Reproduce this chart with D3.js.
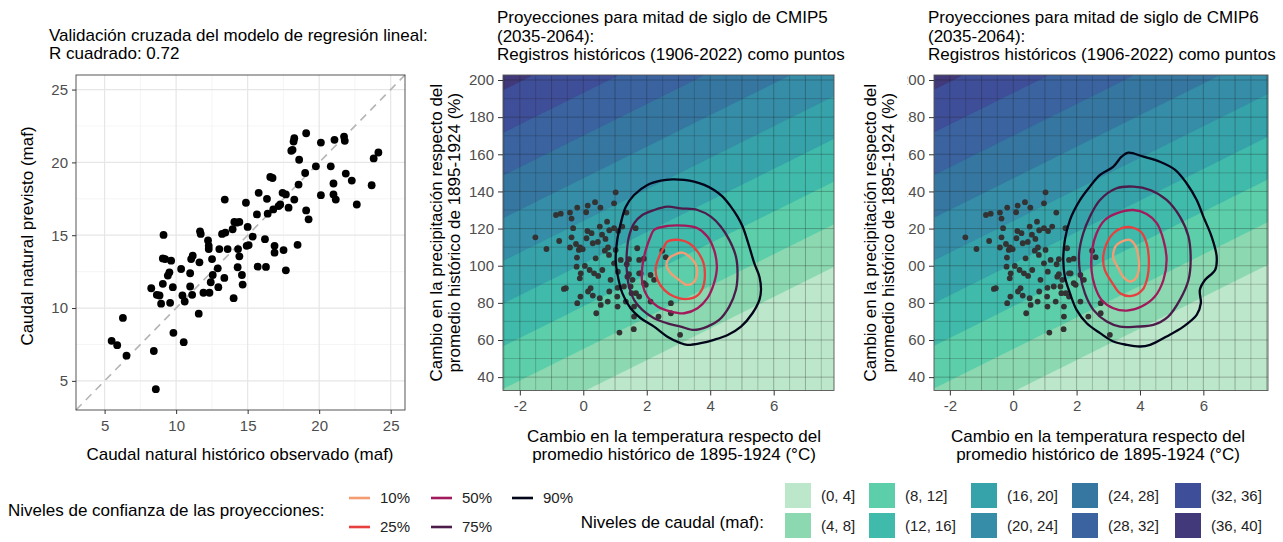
<!DOCTYPE html>
<html><head><meta charset="utf-8">
<script src="https://cdn.jsdelivr.net/npm/d3@7"></script>
<style>
body{margin:0;background:#fff;}
text{font-family:"Liberation Sans",Arial,Helvetica,sans-serif;}
</style></head>
<body><svg id="chart" width="1283" height="542"></svg>
<script>
// ---------- DATA ----------
// Left panel: cross-validation (maf)
const obsFlow = [5.49,5.88,6.28,6.53,8.44,8.58,8.26,8.65,8.84,8.95,9.07,9.12,9.07,9.23,9.42,9.53,9.58,9.77,9.65,9.81,10.35,10.44,10.53,10.60,10.98,11.05,10.98,11.12,11.16,11.58,11.63,11.67,11.72,11.91,12.23,12.28,12.28,12.33,12.42,12.56,12.51,12.91,12.95,13.02,13.21,13.40,13.37,13.44,13.60,14.02,13.95,14.07,14.23,14.33,14.30,14.42,14.42,14.60,14.65,14.88,15.00,15.07,14.93,15.35,15.65,15.70,15.77,16.28,16.21,16.35,16.40,16.58,16.74,16.88,16.79,16.88,17.16,17.28,17.44,17.51,17.67,17.67,17.86,18.05,18.14,18.21,18.26,18.26,18.56,18.60,18.49,19.02,19.09,19.26,19.09,19.77,20.12,20.12,20.81,21.00,21.00,21.07,21.16,21.74,21.79,21.86,22.28,22.63,23.67,23.81,24.14];
const predFlow = [7.75,7.45,9.32,6.73,7.05,4.43,11.36,10.91,10.86,10.30,11.66,15.02,13.41,13.36,12.23,12.45,10.36,11.43,13.25,8.30,12.68,10.86,7.66,10.45,12.39,13.36,11.48,10.91,13.59,9.61,13.14,15.27,15.09,11.05,14.64,14.05,14.27,11.05,11.77,12.27,13.36,12.73,11.43,14.05,15.09,17.45,12.07,15.18,14.05,10.68,15.41,15.91,15.86,14.05,12.80,13.55,15.91,12.27,11.61,17.23,15.57,14.32,14.27,14.91,16.43,12.84,17.91,12.82,14.73,17.50,16.48,19.00,18.93,14.27,16.77,13.80,17.00,17.11,17.91,13.98,12.59,17.80,16.89,20.80,20.86,21.43,21.66,17.45,18.48,20.18,14.34,19.27,16.70,16.09,22.00,19.73,21.36,17.75,19.73,18.55,17.80,21.55,17.45,21.77,21.48,19.23,18.75,17.11,18.43,20.27,20.68];
const flowTicks = [5,10,15,20,25];

// Historical records (1906-2022): temperature change (°C) and precipitation (%)
const histTemp = [-1.51,-1.16,-0.86,-0.71,-0.76,-0.42,-0.37,-0.32,-0.19,-0.42,-0.37,-0.23,-0.14,-0.20,-0.10,-0.02,0.10,0.13,0.14,0.09,0.37,0.54,0.26,0.30,0.46,0.52,0.59,0.75,0.70,0.82,0.78,1.02,0.97,0.97,1.10,1.23,1.36,0.81,0.68,1.02,1.18,1.37,1.44,0.97,1.09,0.86,0.39,0.20,0.34,0.47,0.60,0.05,-0.08,-0.21,-0.11,-0.55,-0.61,0.23,-0.09,-0.19,0.15,0.30,0.52,0.55,0.77,0.82,1.08,1.08,1.07,1.28,1.39,1.49,1.55,1.65,1.70,1.76,1.91,1.81,1.91,1.97,2.12,2.23,2.37,2.12,2.49,2.60,2.76,2.76,0.41,1.14,1.59,3.05,1.60,1.60,1.76,1.66,1.52,1.76,1.44,1.34];
const histPrecip = [115.3,109.0,127.3,128.0,113.3,128.6,125.4,120.2,131.3,109.8,115.3,111.7,108.5,104.4,109.9,108.9,114.8,118.7,132.4,128.8,134.2,131.3,117.5,112.1,112.8,121.1,116.7,123.7,114.4,119.1,109.8,139.5,133.6,120.2,118.7,121.1,128.6,105.8,108.1,108.5,103.1,100.8,103.5,101.3,96.8,92.4,104.0,97.7,95.9,94.5,97.7,99.9,95.9,99.5,93.2,87.9,87.5,87.9,83.4,79.8,86.1,83.9,82.5,78.9,80.7,86.1,88.1,78.0,83.4,88.8,94.1,88.8,92.4,120.2,109.4,103.1,103.8,95.9,90.6,89.7,95.0,92.4,72.6,80.7,108.1,104.6,79.8,74.4,74.4,64.0,65.8,62.8,72.6,78.0,83.4,85.2,85.2,95.9,95.4,80.7];
const tempTicks = [-2,0,2,4,6];
const precipTicks = [40,60,80,100,120,140,160,180,200];

// Flow-level surface (maf): flow = a + b*P + c*T
const flowIntercept = -1.61, flowPrecipCoef = 0.174, flowTempCoef = -1.48;
const flowBreaks = [0,4,8,12,16,20,24,28,32,36,40];
const flowLabels = ["(0, 4]","(4, 8]","(8, 12]","(12, 16]","(16, 20]","(20, 24]","(24, 28]","(28, 32]","(32, 36]","(36, 40]"];
const flowColors = ["#bde7cb","#8cd9b1","#5ccfaa","#3fbaab","#36a2a9","#358da7","#3677a1","#3a63a0","#3f4e98","#41397a"];

// Confidence levels and their colours
const confLevels = ["10%","25%","50%","75%","90%"];
const confColors = ["#f69c73","#e83f3f","#a11a5b","#4c1d4b","#03051a"];

// CMIP5 density contours [temperature °C, precipitation %]
const cmip5_10 = [[2.86,105.8],[3.13,107.1],[3.37,104.5],[3.55,100.4],[3.58,95.0],[3.47,90.9],[3.26,89.7],[3.02,92.3],[2.76,95.9],[2.62,100.4],[2.70,104.0]];
const cmip5_25 = [[2.65,113.0],[3.02,113.9],[3.34,112.1],[3.60,107.6],[3.79,101.3],[3.83,94.1],[3.76,87.9],[3.55,83.4],[3.18,82.0],[2.86,83.4],[2.55,87.0],[2.34,92.3],[2.28,98.6],[2.39,104.9],[2.55,110.3]];
const cmip5_50 = [[2.23,119.3],[2.65,121.4],[3.18,121.6],[3.60,120.2],[3.91,115.7],[4.12,108.5],[4.21,99.5],[4.12,90.6],[3.91,82.5],[3.60,77.1],[3.18,74.4],[2.76,75.3],[2.34,78.0],[2.02,83.4],[1.86,90.6],[1.86,99.5],[1.97,108.5],[2.12,115.7]];
const cmip5_75 = [[2.23,130.0],[2.65,131.8],[3.07,130.9],[3.60,130.0],[4.02,126.4],[4.33,121.1],[4.60,113.9],[4.81,104.9],[4.86,95.9],[4.81,87.0],[4.60,78.0],[4.28,70.8],[3.91,67.2],[3.49,65.4],[3.07,67.2],[2.65,69.0],[2.23,71.7],[1.86,76.2],[1.60,81.6],[1.44,88.8],[1.37,97.7],[1.37,106.7],[1.44,115.7],[1.60,122.8],[1.86,127.3]];
const cmip5_90 = [[2.81,146.5],[3.18,146.2],[3.49,145.3],[3.81,143.5],[4.12,140.8],[4.39,137.2],[4.65,131.8],[4.86,126.4],[5.02,121.1],[5.23,110.3],[5.39,101.3],[5.55,94.1],[5.60,87.0],[5.55,81.6],[5.33,74.4],[4.97,67.2],[4.55,62.7],[4.12,60.1],[3.70,58.3],[3.28,57.4],[3.07,58.3],[2.65,61.8],[2.23,67.2],[1.81,71.7],[1.49,77.1],[1.23,85.2],[1.07,96.0],[1.02,103.1],[1.07,113.9],[1.18,122.8],[1.34,131.8],[1.60,138.1],[2.02,143.5],[2.44,145.8]];

// CMIP6 density contours
const cmip6_10 = [[3.42,113.0],[3.68,113.9],[3.84,111.2],[3.95,104.9],[3.96,97.7],[3.87,93.3],[3.68,91.5],[3.47,94.1],[3.32,98.6],[3.16,104.0],[3.18,108.5],[3.26,111.2]];
const cmip6_25 = [[3.42,120.2],[3.74,120.7],[4.02,118.4],[4.21,112.1],[4.28,103.1],[4.24,94.1],[4.08,87.0],[3.74,83.7],[3.37,85.2],[3.13,90.6],[2.89,97.7],[2.84,104.9],[2.95,112.1],[3.16,117.5]];
const cmip6_50 = [[3.26,128.2],[3.79,130.0],[4.21,127.9],[4.53,122.9],[4.74,113.9],[4.84,103.1],[4.74,92.3],[4.47,83.4],[4.05,78.0],[3.58,75.8],[3.16,77.1],[2.79,81.6],[2.58,88.8],[2.47,97.7],[2.49,108.5],[2.63,117.5],[2.89,124.6]];
const cmip6_75 = [[3.26,141.7],[3.79,142.6],[4.32,140.8],[4.84,135.4],[5.26,126.4],[5.53,115.7],[5.60,103.1],[5.53,92.3],[5.26,81.6],[4.89,72.6],[4.42,68.1],[3.89,67.2],[3.37,67.2],[2.95,69.9],[2.53,76.2],[2.26,85.2],[2.11,95.9],[2.08,106.7],[2.21,117.5],[2.42,126.4],[2.74,135.4]];
const cmip6_90 = [[3.63,160.9],[4.11,158.7],[4.63,156.0],[5.11,151.6],[5.47,144.4],[5.79,135.4],[6.00,126.4],[6.26,115.7],[6.42,104.9],[6.37,97.7],[6.05,92.3],[5.89,87.0],[5.92,79.8],[5.79,73.5],[5.37,67.2],[4.84,61.9],[4.32,57.4],[4.00,56.5],[3.58,57.4],[3.16,59.2],[2.74,63.7],[2.32,69.0],[2.00,76.2],[1.79,85.2],[1.63,94.1],[1.58,103.1],[1.63,113.9],[1.79,124.6],[2.11,135.4],[2.42,142.6],[2.74,148.9],[3.16,153.4],[3.42,158.7]];

// ---------- DRAW ----------
const svg = d3.select("#chart");
const defs = svg.append("defs");
const TICK_COL = "#4d4d4d", TICK_FS = 15, TITLE_FS = 17;

function styleAxis(g){
  g.select(".domain").remove();
  g.selectAll(".tick line").attr("stroke","#333").attr("stroke-width",1);
  g.selectAll(".tick text").attr("fill",TICK_COL).attr("font-size",TICK_FS)
    .attr("font-family",'"Liberation Sans",Arial,sans-serif');
}
function multiText(g, lines, x, ys, opts){
  lines.forEach((t,i)=>{
    const el = g.append("text").attr("x",x).attr("y",ys[i]).text(t)
      .attr("font-size",opts.size).attr("fill",opts.fill||"#000");
    if(opts.anchor) el.attr("text-anchor",opts.anchor);
  });
}

// ===== Left panel =====
(function(){
  const xs = d3.scaleLinear().domain([3,26]).range([76,405]);
  const ys = d3.scaleLinear().domain([3,26]).range([410,75]);
  const g = svg.append("g");
  g.append("rect").attr("x",76).attr("y",75).attr("width",329).attr("height",335).attr("fill","#fff");
  const minor = [7.5,12.5,17.5,22.5];
  g.selectAll(".vmin").data(minor).join("line").attr("x1",d=>xs(d)).attr("x2",d=>xs(d)).attr("y1",75).attr("y2",410).attr("stroke","#f3f3f3").attr("stroke-width",0.8);
  g.selectAll(".hmin").data(minor).join("line").attr("y1",d=>ys(d)).attr("y2",d=>ys(d)).attr("x1",76).attr("x2",405).attr("stroke","#f3f3f3").attr("stroke-width",0.8);
  g.selectAll(".vmaj").data(flowTicks).join("line").attr("x1",d=>xs(d)).attr("x2",d=>xs(d)).attr("y1",75).attr("y2",410).attr("stroke","#e6e6e6").attr("stroke-width",1.2);
  g.selectAll(".hmaj").data(flowTicks).join("line").attr("y1",d=>ys(d)).attr("y2",d=>ys(d)).attr("x1",76).attr("x2",405).attr("stroke","#e6e6e6").attr("stroke-width",1.2);
  g.append("line").attr("x1",xs(3)).attr("y1",ys(3)).attr("x2",xs(26)).attr("y2",ys(26))
    .attr("stroke","#b5b5b5").attr("stroke-width",1.6).attr("stroke-dasharray","8,6");
  g.selectAll("circle").data(d3.range(Math.min(obsFlow.length,predFlow.length))).join("circle")
    .attr("cx",i=>xs(obsFlow[i])).attr("cy",i=>ys(predFlow[i])).attr("r",3.9).attr("fill","#000");
  g.append("rect").attr("x",76).attr("y",75).attr("width",329).attr("height",335).attr("fill","none").attr("stroke","#444").attr("stroke-width",0.9);
  const ax = g.append("g").attr("transform","translate(0,410)").call(d3.axisBottom(xs).tickValues(flowTicks).tickSize(4).tickPadding(6).tickFormat(d=>String(d)));
  styleAxis(ax);
  const ay = g.append("g").attr("transform","translate(76,0)").call(d3.axisLeft(ys).tickValues(flowTicks).tickSize(4).tickPadding(4).tickFormat(d=>String(d)));
  styleAxis(ay);
  multiText(g,["Validación cruzada del modelo de regresión lineal:","R cuadrado: 0.72"],49,[40.5,59],{size:TITLE_FS});
  g.append("text").attr("x",240).attr("y",460).attr("text-anchor","middle").attr("font-size",TITLE_FS).text("Caudal natural histórico observado (maf)");
  g.append("text").attr("transform","translate(33,236) rotate(-90)").attr("text-anchor","middle").attr("font-size",TITLE_FS).text("Caudal natural previsto (maf)");
})();

// ===== Projection panels =====
function projPanel(cfg){
  const {x0,x1,y0,y1,tdom,id} = cfg;
  const xs = d3.scaleLinear().domain(tdom).range([x0,x1]);
  const ys = d3.scaleLinear().domain([32.8,202.7]).range([y1,y0]);
  const g = svg.append("g");
  defs.append("clipPath").attr("id","clip"+id).append("rect").attr("x",x0).attr("y",y0).attr("width",x1-x0).attr("height",y1-y0);
  const pg = g.append("g").attr("clip-path",`url(#clip${id})`);
  pg.append("rect").attr("x",x0).attr("y",y0).attr("width",x1-x0).attr("height",y1-y0).attr("fill",flowColors[0]);
  // filled flow bands
  const [tx0,tx1] = xs.domain(), [py0,py1] = ys.domain();
  const nx = 200, ny = 200, vals = new Array(nx*ny);
  for(let j=0;j<ny;j++) for(let i=0;i<nx;i++){
    const T = tx0 + (i+0.5)/nx*(tx1-tx0), P = py0 + (j+0.5)/ny*(py1-py0);
    const F = flowIntercept + flowPrecipCoef*P + flowTempCoef*T;
    vals[j*nx+i] = Math.max(0.01, Math.min(39.99, F));
  }
  const cont = d3.contours().size([nx,ny]).thresholds(flowBreaks.slice(0,-1))(vals);
  const proj = d3.geoTransform({point(x,y){ this.stream.point(xs(tx0 + x/nx*(tx1-tx0)), ys(py0 + y/ny*(py1-py0))); }});
  const path = d3.geoPath(proj);
  pg.selectAll("path.band").data(cont).join("path").attr("class","band").attr("d",path)
    .attr("fill",(d,i)=>flowColors[i]).attr("stroke",(d,i)=>flowColors[i]).attr("stroke-width",0.3);
  // grid on top
  const vgrid = d3.range(-2.5,8.01,0.5).filter(v=>v>tx0&&v<tx1);
  const hgrid = d3.range(40,201,10);
  pg.selectAll(".vg").data(vgrid).join("line").attr("x1",d=>xs(d)).attr("x2",d=>xs(d)).attr("y1",y0).attr("y2",y1)
    .attr("stroke","#1e1e1e").attr("stroke-opacity",d=>Number.isInteger(d)?0.3:0.22).attr("stroke-width",1);
  pg.selectAll(".hg").data(hgrid).join("line").attr("y1",d=>ys(d)).attr("y2",d=>ys(d)).attr("x1",x0).attr("x2",x1)
    .attr("stroke","#1e1e1e").attr("stroke-opacity",d=>d%20===0?0.3:0.22).attr("stroke-width",1);
  // historical points
  pg.selectAll("circle").data(d3.range(Math.min(histTemp.length,histPrecip.length))).join("circle")
    .attr("cx",i=>xs(histTemp[i])).attr("cy",i=>ys(histPrecip[i])).attr("r",2.9).attr("fill","#333");
  // contours
  const line = d3.line().x(d=>xs(d[0])).y(d=>ys(d[1])).curve(d3.curveCatmullRomClosed.alpha(0.5));
  cfg.contours.slice().reverse().forEach((c,k)=>{
    const idx = cfg.contours.length-1-k;
    pg.append("path").attr("d",line(c)).attr("fill","none").attr("stroke",confColors[idx]).attr("stroke-width",2.3).attr("stroke-linejoin","round");
  });
  g.append("rect").attr("x",x0).attr("y",y0).attr("width",x1-x0).attr("height",y1-y0).attr("fill","none").attr("stroke","#555").attr("stroke-width",0.9);
  const ax = g.append("g").attr("transform",`translate(0,${y1})`).call(d3.axisBottom(xs).tickValues(tempTicks).tickSize(5).tickPadding(5).tickFormat(d=>String(d)));
  styleAxis(ax);
  const ayg = g.append("g");
  if(cfg.labelClipX){
    defs.append("clipPath").attr("id","lclip"+id).append("rect").attr("x",cfg.labelClipX).attr("y",0).attr("width",1283).attr("height",542);
    ayg.attr("clip-path",`url(#lclip${id})`);
  }
  const ay = ayg.append("g").attr("transform",`translate(${x0},0)`).call(d3.axisLeft(ys).tickValues(precipTicks).tickSize(5).tickPadding(4).tickFormat(d=>String(d)));
  styleAxis(ay);
  multiText(g,[cfg.title,"(2035-2064):","Registros históricos (1906-2022) como puntos"],cfg.titleX,[23.3,41.7,60],{size:TITLE_FS});
  multiText(g,["Cambio en la temperatura respecto del","promedio histórico de 1895-1924 (°C)"],cfg.xTitleX,[441.7,460],{size:TITLE_FS,anchor:"middle"});
  const cy = (y0+y1)/2;
  g.append("text").attr("transform",`translate(${cfg.yTitleX[0]},${cy}) rotate(-90)`).attr("text-anchor","middle").attr("font-size",TITLE_FS).text("Cambio en la precipitación respecto del");
  g.append("text").attr("transform",`translate(${cfg.yTitleX[1]},${cy}) rotate(-90)`).attr("text-anchor","middle").attr("font-size",TITLE_FS).text("promedio histórico de 1895-1924 (%)");
}

projPanel({id:"m",x0:503,x1:834,y0:75,y1:390.5,tdom:[-2.53,7.9],title:"Proyecciones para mitad de siglo de CMIP5",titleX:497,xTitleX:674,yTitleX:[442,460],
  contours:[cmip5_10,cmip5_25,cmip5_50,cmip5_75,cmip5_90]});
projPanel({id:"r",x0:934,x1:1268,y0:75,y1:390.5,tdom:[-2.5,8.04],title:"Proyecciones para mitad de siglo de CMIP6",titleX:928,xTitleX:1098,yTitleX:[876,894],labelClipX:907.5,
  contours:[cmip6_10,cmip6_25,cmip6_50,cmip6_75,cmip6_90]});

// ===== Legends =====
const lg = svg.append("g");
lg.append("text").attr("x",8).attr("y",516).attr("font-size",TITLE_FS).text("Niveles de confianza de las proyecciones:");
const lineCols = [349,431,512], lineRows = [498,527];
const linePos = [[0,0],[0,1],[1,0],[1,1],[2,0]];
confLevels.forEach((lab,i)=>{
  const [c,r] = linePos[i];
  const x = lineCols[c], y = lineRows[r];
  lg.append("line").attr("x1",x).attr("x2",x+21).attr("y1",y).attr("y2",y).attr("stroke",confColors[i]).attr("stroke-width",2.6);
  lg.append("text").attr("x",x+31).attr("y",y+5.3).attr("font-size",15).attr("fill","#222").text(lab);
});
lg.append("text").attr("x",764).attr("y",528).attr("text-anchor","end").attr("font-size",TITLE_FS).text("Niveles de caudal (maf):");
const swCols = [785,869,971,1072,1175], swRows = [483,513];
flowLabels.forEach((lab,i)=>{
  const c = Math.floor(i/2), r = i%2;
  lg.append("rect").attr("x",swCols[c]).attr("y",swRows[r]).attr("width",26).attr("height",25).attr("fill",flowColors[i]);
  lg.append("text").attr("x",swCols[c]+36).attr("y",swRows[r]+18).attr("font-size",15).attr("fill","#222").text(lab);
});
</script></body></html>
